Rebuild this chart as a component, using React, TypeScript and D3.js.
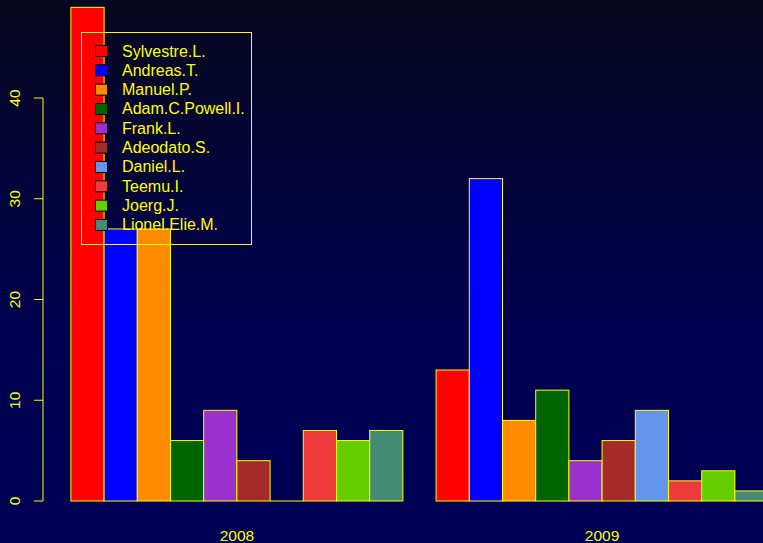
import * as d3 from 'd3';

const years = ['2008', '2009'];
const people = [
  'Sylvestre.L.',
  'Andreas.T.',
  'Manuel.P.',
  'Adam.C.Powell.I.',
  'Frank.L.',
  'Adeodato.S.',
  'Daniel.L.',
  'Teemu.I.',
  'Joerg.J.',
  'Lionel.Elie.M.',
];
const counts2008 = [49, 27, 27, 6, 9, 4, 0, 7, 6, 7];
const counts2009 = [13, 32, 8, 11, 4, 6, 9, 2, 3, 1];
const yTicks = [0, 10, 20, 30, 40];
const palette = [
  '#ff0000',
  '#0000ff',
  '#ff8c00',
  '#006400',
  '#9932cc',
  '#a52a2a',
  '#6495ed',
  '#ee3b3b',
  '#66cd00',
  '#458b74',
];

const W = 763;
const H = 543;
const yellow = '#ffff00';
const font = '"Liberation Sans", Arial, Helvetica, sans-serif';

export default function App() {
  const series = [counts2008, counts2009];
  const n = people.length;

  // barplot(beside=TRUE): one bar-width gap before each group, 4% padding
  const slots = years.length * (n + 1);
  const x = d3.scaleLinear().domain([1 - 0.04 * (slots - 1), slots + 0.04 * (slots - 1)]).range([43, 43 + 33.2 * (slots - 1) * 1.08]);
  const y = d3.scaleLinear().domain([0, 40]).range([501, 98]);

  const bars = years.flatMap((yr, gi) =>
    series[gi].map((v, i) => {
      const left = 1 + gi * (n + 1) + i;
      return { key: `${yr}-${i}`, x0: x(left), x1: x(left + 1), v, color: palette[i] };
    }),
  );

  return (
    <svg
      width={W}
      height={H}
      style={{ position: 'absolute', left: 0, top: 0, display: 'block' }}
      fontFamily={font}
    >
      <defs>
        <linearGradient id="bg" x1="0" y1="0" x2="0" y2="1">
          <stop offset="0" stopColor="#07071f" />
          <stop offset="0.6" stopColor="#00004f" />
          <stop offset="1" stopColor="#000055" />
        </linearGradient>
      </defs>
      <rect width={W} height={H} fill="url(#bg)" />

      {bars.map((b) =>
        b.v === 0 ? (
          <line key={b.key} x1={b.x0} x2={b.x1} y1={y(0)} y2={y(0)} stroke={yellow} strokeWidth={1} />
        ) : (
          <rect
            key={b.key}
            x={b.x0}
            y={y(b.v)}
            width={b.x1 - b.x0}
            height={y(0) - y(b.v)}
            fill={b.color}
            stroke={yellow}
            strokeWidth={1}
          />
        ),
      )}

      {years.map((yr, gi) => {
        const mid = x(1 + gi * (n + 1) + n / 2);
        return (
          <text key={yr} x={mid} y={541} textAnchor="middle" fill={yellow} fontSize={15.5}>
            {yr}
          </text>
        );
      })}

      <line x1={43} x2={43} y1={y(0)} y2={y(40)} stroke={yellow} strokeWidth={1} />
      {yTicks.map((t) => (
        <g key={t}>
          <line x1={34} x2={43} y1={y(t)} y2={y(t)} stroke={yellow} strokeWidth={1} />
          <text
            transform={`translate(20,${y(t)}) rotate(-90)`}
            textAnchor="middle"
            fill={yellow}
            fontSize={15.5}
          >
            {t}
          </text>
        </g>
      ))}

      <rect x={81.5} y={32.5} width={170} height={212} fill="none" stroke={yellow} strokeWidth={1} />
      {people.map((p, i) => {
        const cy = 51 + i * 19.33;
        return (
          <g key={p}>
            <rect x={95.5} y={cy - 5.5} width={12} height={11} fill={palette[i]} stroke="#000" strokeWidth={1} />
            <text x={122} y={cy + 5.5} fill={yellow} fontSize={16}>
              {p}
            </text>
          </g>
        );
      })}
    </svg>
  );
}
